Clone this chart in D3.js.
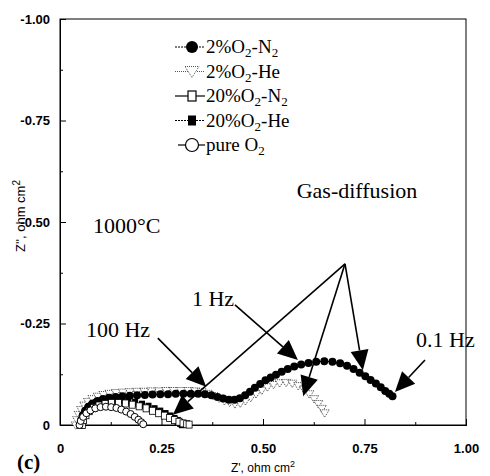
<!DOCTYPE html>
<html>
<head>
<meta charset="utf-8">
<script src="https://cdn.jsdelivr.net/npm/d3@7"></script>
<style>
  body { margin: 0; background: #fff; }
  svg { display: block; }
</style>
</head>
<body>
<div id="container"></div>
<script>
let w = 490;
let h = 476;

// 2%O2-N2 (filled circles)
let n2Re = [0.049,0.052,0.056,0.062,0.070,0.080,0.092,0.106,0.121,0.137,0.154,0.172,0.190,0.209,0.228,0.247,0.266,0.285,0.304,0.322,0.340,0.357,0.373,0.388,0.402,0.416,0.430,0.443,0.456,0.468,0.480,0.493,0.506,0.519,0.532,0.546,0.561,0.577,0.594,0.612,0.631,0.651,0.671,0.690,0.707,0.723,0.738,0.752,0.765,0.778,0.790,0.801,0.811,0.819];
let n2Im = [0,-0.012,-0.024,-0.035,-0.045,-0.053,-0.059,-0.064,-0.067,-0.069,-0.071,-0.072,-0.073,-0.074,-0.075,-0.076,-0.076,-0.077,-0.077,-0.077,-0.077,-0.076,-0.073,-0.069,-0.065,-0.062,-0.062,-0.066,-0.073,-0.082,-0.092,-0.101,-0.110,-0.117,-0.124,-0.131,-0.138,-0.144,-0.149,-0.153,-0.156,-0.157,-0.156,-0.152,-0.146,-0.138,-0.129,-0.120,-0.111,-0.102,-0.093,-0.084,-0.077,-0.071];

// 2%O2-He (open triangles)
let heRe = [0.039,0.042,0.046,0.052,0.060,0.069,0.080,0.093,0.107,0.122,0.138,0.155,0.172,0.190,0.208,0.226,0.244,0.262,0.280,0.298,0.316,0.333,0.349,0.364,0.378,0.392,0.405,0.418,0.431,0.444,0.457,0.470,0.483,0.497,0.511,0.526,0.541,0.557,0.572,0.587,0.601,0.614,0.626,0.636,0.645,0.652];
let heIm = [0,-0.013,-0.026,-0.038,-0.049,-0.058,-0.065,-0.071,-0.075,-0.078,-0.080,-0.081,-0.082,-0.083,-0.083,-0.084,-0.084,-0.085,-0.085,-0.085,-0.085,-0.084,-0.082,-0.078,-0.072,-0.066,-0.060,-0.056,-0.052,-0.054,-0.060,-0.068,-0.077,-0.086,-0.094,-0.100,-0.104,-0.105,-0.103,-0.097,-0.088,-0.077,-0.065,-0.053,-0.041,-0.030];

// 20%O2-N2 (open squares)
let n20Re = [0.055,0.058,0.064,0.072,0.083,0.096,0.111,0.127,0.144,0.161,0.178,0.195,0.212,0.228,0.243,0.257,0.270,0.282,0.293,0.303,0.312,0.318];
let n20Im = [0,-0.012,-0.024,-0.034,-0.042,-0.048,-0.052,-0.054,-0.054,-0.053,-0.050,-0.046,-0.041,-0.035,-0.029,-0.023,-0.017,-0.012,-0.008,-0.004,-0.002,-0.001];

// 20%O2-He (filled squares)
let he20Re = [0.050,0.053,0.059,0.067,0.077,0.089,0.103,0.118,0.134,0.151,0.168,0.185,0.202,0.218,0.233,0.247,0.260,0.272,0.282,0.290,0.296,0.300];
let he20Im = [0,-0.014,-0.027,-0.038,-0.047,-0.054,-0.059,-0.062,-0.063,-0.062,-0.059,-0.055,-0.050,-0.045,-0.039,-0.033,-0.027,-0.021,-0.015,-0.010,-0.005,-0.002];

// pure O2 (open circles)
let o2Re = [0.048,0.051,0.057,0.065,0.075,0.087,0.100,0.113,0.126,0.139,0.151,0.163,0.174,0.184,0.193,0.200,0.205];
let o2Im = [0,-0.010,-0.020,-0.029,-0.036,-0.041,-0.044,-0.045,-0.044,-0.042,-0.038,-0.033,-0.027,-0.020,-0.013,-0.007,-0.002];

let xTicks = [0, 0.25, 0.5, 0.75, 1.0];
let yTicks = [0, -0.25, -0.5, -0.75, -1.0];
let xMinor = [0.125, 0.375, 0.625, 0.875];
let yMinor = [-0.125, -0.375, -0.625, -0.875];

let legendLabels = [
  ["2%O", "2", "-N", "2"],
  ["2%O", "2", "-He", ""],
  ["20%O", "2", "-N", "2"],
  ["20%O", "2", "-He", ""],
  ["pure O", "2", "", ""]
];

// annotations in data units: [text, x, y]
let notes = [
  ["1000°C", 0.081, -0.473],
  ["Gas-diffusion", 0.583, -0.559],
  ["1 Hz", 0.325, -0.293],
  ["100 Hz", 0.064, -0.217],
  ["0.1 Hz", 0.877, -0.192]
];
// arrows: [x0, y0, x1, y1]
let arrows = [
  [0.702, -0.397, 0.278, -0.025],
  [0.702, -0.397, 0.599, -0.071],
  [0.702, -0.397, 0.746, -0.135],
  [0.431, -0.296, 0.586, -0.160],
  [0.241, -0.214, 0.360, -0.094],
  [0.899, -0.160, 0.825, -0.081]
];

let x = d3.scaleLinear().domain([0, 1]).range([60, 466]);
let y = d3.scaleLinear().domain([0, -1]).range([425, 19]);

let viz = d3.select("#container")
  .append("svg")
  .attr("width", w)
  .attr("height", h)
  .style("background-color", "#fff");

let fmt = d => d === 0 ? "0" : d3.format(".2f")(d).replace("\u2212", "-");
let sans = "'Liberation Sans', Arial, sans-serif";
let serif = "'Liberation Serif', 'Times New Roman', serif";

// frame
viz.append("rect")
  .attr("x", x(0)).attr("y", y(-1))
  .attr("width", x(1) - x(0)).attr("height", y(0) - y(-1))
  .attr("fill", "none").attr("stroke", "#000").attr("stroke-width", 1);

let xAxis = viz.append("g")
  .attr("transform", `translate(0, ${y(0)})`)
  .call(d3.axisBottom(x).tickValues(xTicks).tickSize(-6).tickPadding(19).tickFormat(fmt));
let xAxisMinor = viz.append("g")
  .attr("transform", `translate(0, ${y(0)})`)
  .call(d3.axisBottom(x).tickValues(xMinor).tickSize(-3).tickFormat(""));
let yAxis = viz.append("g")
  .attr("transform", `translate(${x(0)}, 0)`)
  .call(d3.axisLeft(y).tickValues(yTicks).tickSize(-6).tickPadding(10).tickFormat(fmt));
let yAxisMinor = viz.append("g")
  .attr("transform", `translate(${x(0)}, 0)`)
  .call(d3.axisLeft(y).tickValues(yMinor).tickSize(-3).tickFormat(""));

viz.selectAll(".domain").attr("stroke", "#000");
viz.selectAll(".tick line").attr("stroke", "#000");
viz.selectAll(".tick text")
  .attr("font-family", sans)
  .attr("font-size", "13px")
  .attr("font-weight", "bold")
  .attr("fill", "#000");

// axis titles
let xTitle = viz.append("text")
  .attr("x", 263).attr("y", 472)
  .attr("text-anchor", "middle")
  .attr("font-family", sans).attr("font-size", "12px");
xTitle.append("tspan").text("Z', ohm cm");
xTitle.append("tspan").attr("dy", -5).attr("font-size", "9px").text("2");

let yTitle = viz.append("text")
  .attr("transform", "translate(25, 216) rotate(-90)")
  .attr("text-anchor", "middle")
  .attr("font-family", sans).attr("font-size", "13px");
yTitle.append("tspan").text("Z'', ohm cm");
yTitle.append("tspan").attr("dy", -5).attr("font-size", "10px").text("2");

viz.append("text")
  .attr("x", 17).attr("y", 469)
  .attr("font-family", serif).attr("font-size", "21px").attr("font-weight", "bold")
  .text("(c)");

// series
let line = d3.line().x(d => x(d[0])).y(d => y(d[1]));
let zip = (a, b) => a.map((v, i) => [v, b[i]]);

let heData = zip(heRe, heIm);
let n2Data = zip(n2Re, n2Im);
let he20Data = zip(he20Re, he20Im);
let n20Data = zip(n20Re, n20Im);
let o2Data = zip(o2Re, o2Im);

let plot = viz.append("g");

plot.append("path").datum(heData).attr("d", line)
  .attr("fill", "none").attr("stroke", "#666").attr("stroke-width", 1).attr("stroke-dasharray", "1,1");
plot.selectAll(".he").data(heData).enter().append("path")
  .attr("class", "he")
  .attr("transform", d => `translate(${x(d[0])}, ${y(d[1])})`)
  .attr("d", "M-4.5,-3 L4.5,-3 L0,4.5 Z")
  .attr("fill", "#fff").attr("stroke", "#444").attr("stroke-width", 1).attr("stroke-dasharray", "1,1");

plot.append("path").datum(n2Data).attr("d", line)
  .attr("fill", "none").attr("stroke", "#000").attr("stroke-width", 1);
plot.selectAll(".n2").data(n2Data).enter().append("circle")
  .attr("class", "n2")
  .attr("cx", d => x(d[0])).attr("cy", d => y(d[1]))
  .attr("r", 4).attr("fill", "#000");

plot.append("path").datum(he20Data).attr("d", line)
  .attr("fill", "none").attr("stroke", "#000").attr("stroke-width", 1);
plot.selectAll(".he20").data(he20Data).enter().append("rect")
  .attr("class", "he20")
  .attr("x", d => x(d[0]) - 3).attr("y", d => y(d[1]) - 4)
  .attr("width", 6).attr("height", 8).attr("fill", "#000");

plot.append("path").datum(n20Data).attr("d", line)
  .attr("fill", "none").attr("stroke", "#000").attr("stroke-width", 1);
plot.selectAll(".n20").data(n20Data).enter().append("rect")
  .attr("class", "n20")
  .attr("x", d => x(d[0]) - 3).attr("y", d => y(d[1]) - 3.5)
  .attr("width", 6).attr("height", 7)
  .attr("fill", "#fff").attr("stroke", "#000").attr("stroke-width", 0.8);

plot.append("path").datum(o2Data).attr("d", line)
  .attr("fill", "none").attr("stroke", "#000").attr("stroke-width", 1);
plot.selectAll(".o2").data(o2Data).enter().append("circle")
  .attr("class", "o2")
  .attr("cx", d => x(d[0])).attr("cy", d => y(d[1]))
  .attr("r", 3.5).attr("fill", "#fff").attr("stroke", "#000").attr("stroke-width", 1);

// annotations
viz.selectAll(".note").data(notes).enter().append("text")
  .attr("class", "note")
  .attr("x", d => x(d[1])).attr("y", d => y(d[2]))
  .attr("font-family", serif).attr("font-size", "22px").attr("fill", "#000")
  .text(d => d[0]);

arrows.forEach(a => {
  let x0 = x(a[0]), y0 = y(a[1]), x1 = x(a[2]), y1 = y(a[3]);
  let ang = Math.atan2(y1 - y0, x1 - x0);
  let len = 20, half = 9;
  let bx = x1 - len * Math.cos(ang), by = y1 - len * Math.sin(ang);
  let px = -Math.sin(ang) * half, py = Math.cos(ang) * half;
  viz.append("line")
    .attr("x1", x0).attr("y1", y0).attr("x2", bx).attr("y2", by)
    .attr("stroke", "#000").attr("stroke-width", 1.6);
  viz.append("path")
    .attr("d", `M${x1},${y1} L${bx + px},${by + py} L${bx - px},${by - py} Z`)
    .attr("fill", "#000");
});

// legend
let legend = viz.append("g").attr("transform", "translate(175, 47)");
let dashes = ["2,1", "1,1", null, "2,1", null];
legendLabels.forEach((lab, i) => {
  let row = legend.append("g").attr("transform", `translate(0, ${i * 24.5})`);
  row.append("line")
    .attr("x1", i === 4 ? 3 : 0).attr("x2", 30).attr("y1", 0).attr("y2", 0)
    .attr("stroke", i === 1 ? "#555" : "#000").attr("stroke-width", 1.2)
    .attr("stroke-dasharray", dashes[i]);
  if (i === 0) {
    row.append("circle").attr("cx", 17).attr("cy", 0).attr("r", 6).attr("fill", "#000");
  } else if (i === 1) {
    row.append("path").attr("d", "M10,-5 L24,-5 L17,6 Z")
      .attr("fill", "#fff").attr("stroke", "#555").attr("stroke-dasharray", "1,1");
  } else if (i === 2) {
    row.append("rect").attr("x", 13).attr("y", -5).attr("width", 8).attr("height", 10)
      .attr("fill", "#fff").attr("stroke", "#000").attr("stroke-width", 1.2);
  } else if (i === 3) {
    row.append("rect").attr("x", 13).attr("y", -5).attr("width", 8).attr("height", 10).attr("fill", "#000");
  } else {
    row.append("circle").attr("cx", 17).attr("cy", 0).attr("r", 6.5)
      .attr("fill", "#fff").attr("stroke", "#000").attr("stroke-width", 1.2);
  }
  let t = row.append("text")
    .attr("x", 31).attr("y", 6)
    .attr("font-family", serif).attr("font-size", "19px").attr("fill", "#000");
  t.append("tspan").text(lab[0]);
  t.append("tspan").attr("dy", 4).attr("font-size", "13px").text(lab[1]);
  if (lab[2]) {
    t.append("tspan").attr("dy", -4).text(lab[2]);
    if (lab[3]) t.append("tspan").attr("dy", 4).attr("font-size", "13px").text(lab[3]);
  }
});
</script>
</body>
</html>
